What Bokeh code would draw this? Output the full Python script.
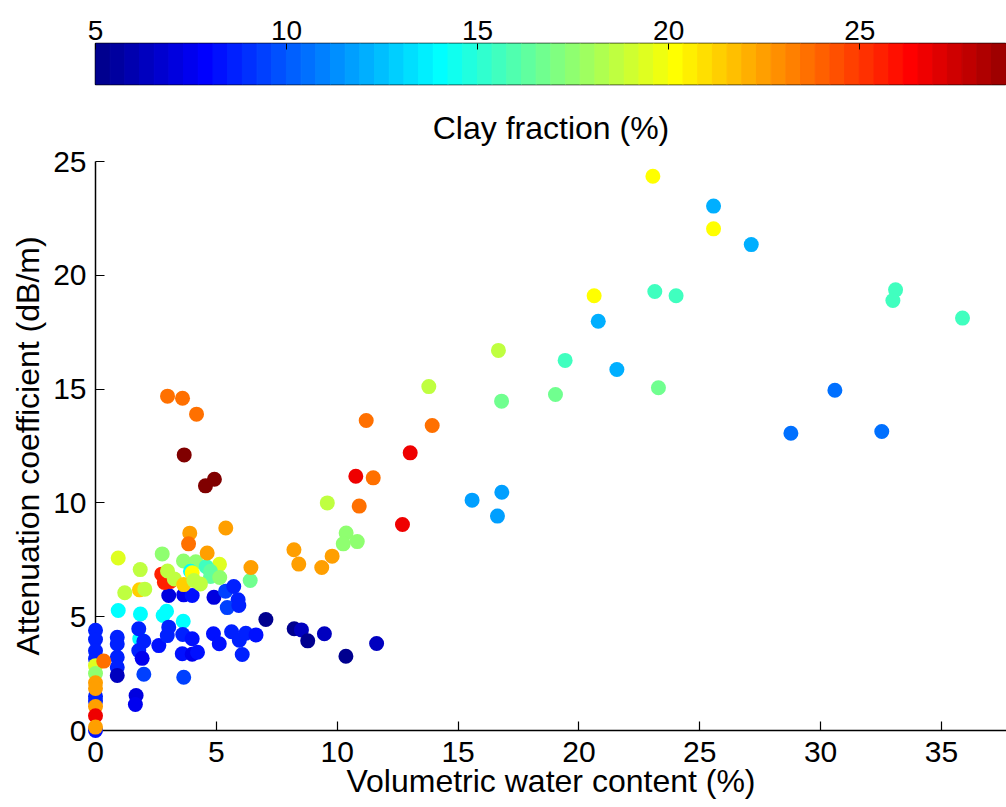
import numpy as np
from bokeh.plotting import figure
from bokeh.models import LinearColorMapper, FixedTicker, ColumnDataSource, Range1d, Title
from bokeh.layouts import column
from bokeh.embed import file_html
from bokeh.resources import INLINE

# ---------------- data ----------------
water_content = [
    # cyan group
    0.94, 1.86, 2.94, 2.80, 3.63, 1.83,
    # low blue group
    0.00, 0.00, 0.00, 0.00, 0.00, 0.00, 0.00,
    0.90, 0.90, 0.90, 0.90, 0.90,
    1.79, 2.00, 1.79, 1.93, 2.00, 1.68, 1.65,
    2.62, 3.03, 2.97, 3.61, 3.59, 3.65,
    4.00, 4.00, 4.22, 4.88, 5.12,
    5.63, 5.95, 6.07, 6.22, 6.64,
    3.03, 3.65, 4.00, 4.90, 5.38, 5.72, 5.90, 5.45, 5.93, 7.05,
    8.22, 8.52, 8.78, 9.47, 10.36, 11.63,
    # x = 0 coloured
    0.00, 0.00, 0.00, 0.00, 0.00, 0.00, 0.00, 0.34,
    # mid cluster
    0.94, 2.76, 1.85, 3.64, 4.15, 5.13, 2.74, 2.85, 3.10, 2.98, 3.26,
    3.93, 4.00, 4.58, 4.76, 4.76, 5.14, 1.21, 1.82, 2.04, 3.65, 4.07, 4.34, 6.40,
    3.90, 3.85, 5.39, 4.62, 6.43,
    2.98, 3.60, 4.18, 3.67, 4.55, 4.92,
    # middle
    8.21, 8.41, 9.36, 9.79, 10.37, 10.25, 10.83,
    9.59, 10.91, 12.70, 10.77, 11.49, 13.02, 11.20, 13.93,
    15.58, 16.81, 16.63, 13.79, 16.80, 16.67,
    # upper right
    23.06, 25.57, 25.57, 27.13, 20.63, 23.14, 24.02, 33.10, 32.99, 35.87,
    20.80, 19.43, 21.57, 23.29, 30.59, 28.77, 32.53, 19.03,
]

attenuation = [
    5.27, 5.12, 5.24, 5.05, 4.80, 4.03,
    4.40, 4.00, 3.50, 3.15, 1.50, 1.30, 0.00,
    4.10, 3.80, 3.22, 2.78, 2.42,
    4.47, 3.92, 3.51, 3.17, 2.47, 1.54, 1.14,
    3.73, 4.54, 4.17, 4.22, 3.37, 2.34,
    4.03, 3.35, 3.44, 4.25, 3.81,
    4.34, 3.97, 3.34, 4.27, 4.20,
    5.93, 5.96, 5.93, 5.85, 6.12, 6.33, 5.74, 5.40, 5.49, 4.88,
    4.47, 4.42, 3.94, 4.25, 3.26, 3.82,
    2.85, 2.50, 2.10, 1.85, 1.05, 0.65, 0.15, 3.05,
    7.58, 7.76, 7.07, 7.45, 7.41, 7.30, 6.87, 6.50, 6.55, 7.01, 6.66,
    7.00, 6.93, 7.20, 7.00, 6.77, 6.72, 6.05, 6.18, 6.21, 6.41, 6.59, 6.44, 6.59,
    8.67, 8.20, 8.90, 7.80, 7.16,
    14.69, 14.60, 13.90, 12.11, 10.75, 11.04,
    7.94, 7.31, 7.16, 7.66, 8.68, 8.20, 8.30,
    10.00, 9.86, 9.05, 11.17, 11.10, 12.20, 13.62, 13.40,
    10.12, 10.47, 9.42, 15.11, 14.47, 16.70,
    24.35, 23.04, 22.04, 21.35, 19.10, 19.29, 19.10, 19.36, 18.89, 18.12,
    17.98, 16.26, 15.86, 15.06, 14.95, 13.06, 13.14, 14.76,
]

clay_fraction = [
    14.1, 14.1, 14.1, 14.1, 14.1, 14.1,
    8.7, 8.7, 8.7, 8.7, 8.7, 8.7, 8.1,
    8.7, 8.7, 8.7, 8.7, 6.2,
    8.7, 8.7, 8.7, 7.6, 9.3, 7.2, 7.6,
    8.1, 8.7, 8.7, 8.7, 8.1, 9.3,
    8.1, 7.6, 8.1, 8.1, 8.1,
    8.7, 8.7, 8.7, 8.7, 8.1,
    7.2, 7.6, 8.1, 7.2, 9.3, 8.7, 8.7, 9.3, 8.7, 5.3,
    5.3, 6.2, 5.3, 6.2, 5.3, 6.2,
    19.5, 17.6, 22.5, 22.5, 22.5, 26.9, 22.5, 23.7,
    19.5, 17.6, 18.5, 17.6, 17.6, 19.5, 25.7, 25.7, 25.7, 18.5, 18.5,
    14.1, 20.0, 15.5, 16.2, 16.2, 17.6, 18.5, 21.5, 18.5, 21.5, 18.5, 18.5, 16.6,
    22.5, 23.7, 22.5, 22.5, 22.5,
    23.7, 23.7, 23.7, 29.6, 29.6, 29.6,
    22.5, 22.5, 22.5, 22.5, 17.6, 17.6, 17.6,
    18.5, 23.7, 26.9, 26.9, 23.7, 26.9, 23.7, 23.7,
    11.6, 11.6, 11.6, 18.5, 16.6, 18.5,
    20.0, 12.1, 20.0, 12.1, 20.0, 15.5, 15.5, 15.5, 15.5, 15.5,
    12.1, 15.5, 12.1, 16.6, 10.5, 10.5, 10.5, 16.6,
]

x_ticks = [0, 5, 10, 15, 20, 25, 30, 35]
y_ticks = [0, 5, 10, 15, 20, 25]
clay_ticks = [5, 10, 15, 20, 25]
clay_low, clay_high = 5.0, 29.6
x_limits = (0, 37.69)
y_limits = (0, 25)
cbar_visible_high = 28.84

# ---------------- MATLAB jet(64) palette ----------------
def jet(m=64):
    n = int(np.ceil(m / 4))
    u = np.concatenate([np.arange(1, n + 1) / n, np.ones(n - 1), np.arange(n, 0, -1) / n])
    g = int(np.ceil(n / 2)) - (1 if m % 4 == 1 else 0) + np.arange(1, len(u) + 1)
    r = g + n
    b = g - n
    J = np.zeros((m, 3))
    for col, idxs in ((0, r), (1, g), (2, b)):
        for k, val in zip(idxs, u):
            if 1 <= k <= m:
                J[k - 1, col] = val
    return ["#%02x%02x%02x" % tuple(int(round(c * 255)) for c in row) for row in J]

palette = jet(64)
mapper = LinearColorMapper(palette=palette, low=clay_low, high=clay_high)

FONT = "Liberation Sans"
CB_TICK_SIZE = "28px"
TICK_SIZE = "30px"
LABEL_SIZE = "32px"

# ---------------- colour bar figure ----------------
cb = figure(width=1006, height=86, x_range=Range1d(clay_low, cbar_visible_high),
            y_range=Range1d(0, 1), x_axis_location="above", y_axis_location=None,
            output_backend="svg", toolbar_location=None,
            min_border_left=93, min_border_right=0, min_border_top=43, min_border_bottom=2)
edges = np.linspace(clay_low, clay_high, len(palette) + 1)
cb.quad(left=edges[:-1], right=edges[1:], bottom=0, top=1,
        fill_color=palette, line_color=palette, line_width=1)
cb.xgrid.visible = False
cb.ygrid.visible = False
cb.outline_line_color = "black"
cb.outline_line_width = 1.5
ax = cb.xaxis[0]
ax.ticker = FixedTicker(ticks=clay_ticks)
ax.major_tick_in = 6
ax.major_tick_out = 0
ax.minor_tick_line_color = None
ax.major_label_text_font = FONT
ax.major_label_text_font_size = CB_TICK_SIZE
ax.major_label_text_color = "black"
ax.major_label_standoff = 4
ax.axis_line_color = None
cb.background_fill_color = "white"
cb.border_fill_color = "white"

# ---------------- main scatter ----------------
src = ColumnDataSource(dict(water=water_content, atten=attenuation, clay=clay_fraction))
p = figure(width=1006, height=721, x_range=Range1d(*x_limits), y_range=Range1d(*y_limits),
           output_backend="svg", toolbar_location=None,
           min_border_left=95, min_border_right=0, min_border_top=75, min_border_bottom=77)
p.add_layout(Title(text="Clay fraction (%)", align="center", text_font=FONT,
                   text_font_size=LABEL_SIZE, text_font_style="normal",
                   text_color="black", standoff=32), "above")
p.scatter("water", "atten", source=src, size=15, marker="circle",
          fill_color={"field": "clay", "transform": mapper}, line_color=None,
          level="overlay")
p.xgrid.visible = False
p.ygrid.visible = False
p.outline_line_color = None
p.background_fill_color = "white"
p.border_fill_color = "white"
for a, ticks in ((p.xaxis[0], x_ticks), (p.yaxis[0], y_ticks)):
    a.ticker = FixedTicker(ticks=ticks)
    a.major_tick_in = 9
    a.major_tick_out = 0
    a.minor_tick_line_color = None
    a.axis_line_color = "black"
    a.axis_line_width = 1.5
    a.major_tick_line_width = 1.2
    a.major_label_text_font = FONT
    a.major_label_text_font_size = TICK_SIZE
    a.major_label_text_color = "black"
    a.axis_label_text_font = FONT
    a.axis_label_text_font_size = LABEL_SIZE
    a.axis_label_text_font_style = "normal"
    a.axis_label_text_color = "black"
p.xaxis[0].axis_label = "Volumetric water content (%)"
p.yaxis[0].axis_label = "Attenuation coefficient (dB/m)"
p.xaxis[0].major_label_standoff = 11
p.xaxis[0].axis_label_standoff = -2
p.yaxis[0].major_label_standoff = 9
p.yaxis[0].axis_label_standoff = 4

layout = column(cb, p, spacing=0)
open("out.html", "w").write(file_html(layout, INLINE))
